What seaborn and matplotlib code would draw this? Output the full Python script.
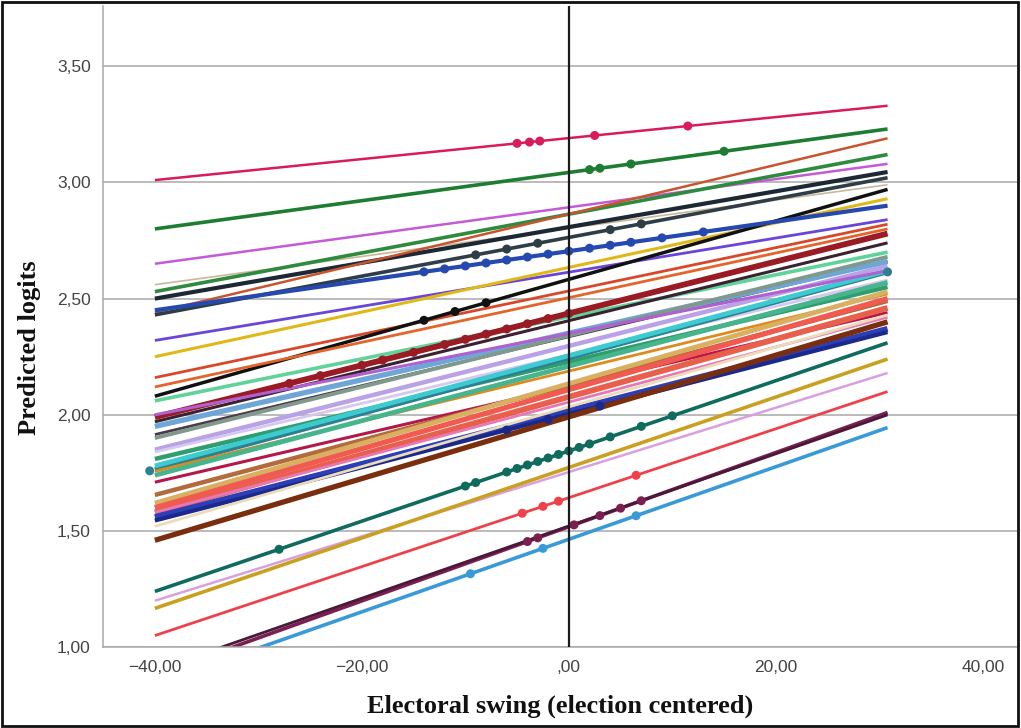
import matplotlib
matplotlib.use("Agg")
import matplotlib.pyplot as plt
import seaborn as sns
import pandas as pd
import numpy as np
from matplotlib.ticker import FuncFormatter, FixedLocator
from matplotlib.patches import Rectangle

# ---- data ----
x_start = -40.0
x_end = 30.8
groups = [f"g{i:02d}" for i in range(1, 46)]
y_left = [3.01, 2.80, 2.65, 2.56, 2.53, 2.50, 2.44, 2.43, 2.32, 2.25,
          2.16, 2.08, 2.06, 1.99, 1.97, 1.915, 1.85, 1.84, 1.81, 1.765,
          1.757, 1.71, 1.655, 1.62, 1.58, 1.58, 1.56, 1.545, 1.52, 1.46,
          1.24, 1.20, 1.167, 1.05, 0.88, 0.90, 0.84,
          1.78, 1.74, 1.95, 1.90, 2.12, 2.45, 2.00, 1.60]
y_right = [3.33, 3.23, 3.08, 2.99, 3.12, 3.045, 3.19, 3.02, 2.84, 2.93,
           2.82, 2.97, 2.70, 2.78, 2.74, 2.66, 2.64, 2.58, 2.55, 2.615,
           2.52, 2.44, 2.49, 2.53, 2.46, 2.42, 2.37, 2.356, 2.43, 2.40,
           2.31, 2.18, 2.24, 2.10, 2.01, 2.00, 1.945,
           2.62, 2.57, 2.66, 2.68, 2.80, 2.90, 2.62, 2.50]
colors = ["#d81b5a", "#1e7d32", "#c35bd6", "#c9b89a", "#2e8b3e", "#1c2833", "#c8552d", "#2f3e46", "#6a45d9", "#e0b818",
          "#d9472b", "#111111", "#5fd39a", "#9b1b24", "#3a2230", "#4a3a4a", "#b9a3e6", "#d6c8f0", "#2f9e6e", "#2f7f8f",
          "#e08a1e", "#b5174a", "#b36a3c", "#d8b060", "#e8604c", "#e678b8", "#2c3fb8", "#1b2a8a", "#eadcb8", "#7a2e0e",
          "#0f6b5e", "#d9a0e0", "#c9a020", "#f0404a", "#7a1f4f", "#4a1838", "#3a9ad9",
          "#3ccbd0", "#46b48c", "#6ea6d8", "#7f9a8c", "#e4642c", "#2649b0", "#b060d0", "#f05a50"]
widths = [1.8, 2.6, 1.8, 1.2, 2.6, 3.0, 1.8, 2.6, 2.0, 2.2,
          2.0, 2.5, 2.6, 4.2, 2.2, 2.0, 3.2, 2.0, 3.2, 3.4,
          2.0, 2.2, 3.2, 3.4, 4.2, 2.0, 4.2, 3.0, 2.0, 3.8,
          2.6, 1.8, 2.6, 2.0, 2.6, 2.0, 2.6,
          3.4, 3.4, 3.8, 2.8, 2.0, 3.0, 2.2, 3.8]
# observed-point markers along some lines (x positions)
marker_groups = ["g01", "g02", "g31", "g34", "g35", "g37", "g43", "g14", "g08", "g20", "g12", "g28"]
marker_xs = [[-5, -3.8, -2.8, 2.5, 11.5],
             [2, 3, 6, 15],
             [-28, -10, -9, -6, -5, -4, -3, -2, -1, 0, 1, 2, 4, 7, 10],
             [-4.5, -2.5, -1, 6.5],
             [-4, -3, 0.5, 3, 5, 7],
             [-9.5, -2.5, 6.5],
             [-14, -12, -10, -8, -6, -4, -2, 0, 2, 4, 6, 9, 13],
             [-27, -24, -20, -18, -15, -12, -10, -8, -6, -4, -2, 0],
             [-9, -6, -3, 4, 7],
             [-40.5, 30.8],
             [-14, -11, -8],
             [-6, -2, 3]]

x_ticks = [-40, -20, 0, 20, 40]
y_ticks = [1.0, 1.5, 2.0, 2.5, 3.0, 3.5]

# ---- build tables ----
rows = []
for g, a, b in zip(groups, y_left, y_right):
    rows.append((g, x_start, a))
    rows.append((g, x_end, b))
lines = pd.DataFrame(rows, columns=["group", "x", "y"])

lookup = {g: (a, b) for g, a, b in zip(groups, y_left, y_right)}
mrows = []
for g, xs in zip(marker_groups, marker_xs):
    a, b = lookup[g]
    for xv in xs:
        t = (xv - x_start) / (x_end - x_start)
        mrows.append((g, xv, a + t * (b - a)))
marks = pd.DataFrame(mrows, columns=["group", "x", "y"])

palette = dict(zip(groups, colors))
sizes = dict(zip(groups, widths))

# ---- plot ----
sns.set_theme(style="white")
plt.rcParams["font.family"] = ["Liberation Sans", "DejaVu Sans"]

fig = plt.figure(figsize=(10.21, 7.28), dpi=100)
ax = fig.add_axes([0.101, 0.111, 0.895, 0.881])

sns.lineplot(data=lines, x="x", y="y", hue="group", size="group",
             palette=palette, sizes=sizes, hue_order=groups, size_order=groups,
             legend=False, ax=ax, solid_capstyle="butt")
sns.scatterplot(data=marks, x="x", y="y", hue="group", palette=palette,
                legend=False, ax=ax, s=42, edgecolor="none", zorder=3)

ax.axvline(0, color="#1a1a1a", lw=1.6, zorder=4)

ax.set_xlim(-45.0, 43.3)
ax.set_ylim(1.0, 3.76)
ax.xaxis.set_major_locator(FixedLocator(x_ticks))
ax.yaxis.set_major_locator(FixedLocator(y_ticks))

def fmt(v, pos):
    s = f"{abs(v):.2f}".replace(".", ",")
    if s.startswith("0,"):
        s = s[1:]
    return ("\u2212" if v < 0 else "") + s

ax.xaxis.set_major_formatter(FuncFormatter(fmt))
ax.yaxis.set_major_formatter(FuncFormatter(fmt))
ax.tick_params(axis="both", labelsize=12.5, labelcolor="#444444", length=0)
ax.tick_params(axis="y", pad=9)
ax.tick_params(axis="x", pad=9)

ax.yaxis.grid(True, color="#a8a8a8", lw=1.1, zorder=0)
ax.xaxis.grid(False)
ax.set_axisbelow(True)
for side in ["top", "right"]:
    ax.spines[side].set_visible(False)
for side in ["left", "bottom"]:
    ax.spines[side].set_color("#a8a8a8")
    ax.spines[side].set_linewidth(1.1)

ax.set_xlabel("Electoral swing (election centered)", family=["Liberation Serif", "DejaVu Serif"],
              fontsize=19, fontweight="bold", color="#111111", labelpad=14)
ax.set_ylabel("Predicted logits", family=["Liberation Serif", "DejaVu Serif"],
              fontsize=19, fontweight="bold", color="#111111")
ax.yaxis.set_label_coords(-0.068, 0.467)

fig.patches.append(Rectangle((0.002, 0.003), 0.995, 0.994, transform=fig.transFigure,
                             fill=False, edgecolor="#111111", lw=2))

fig.savefig("out.png", dpi=100)
